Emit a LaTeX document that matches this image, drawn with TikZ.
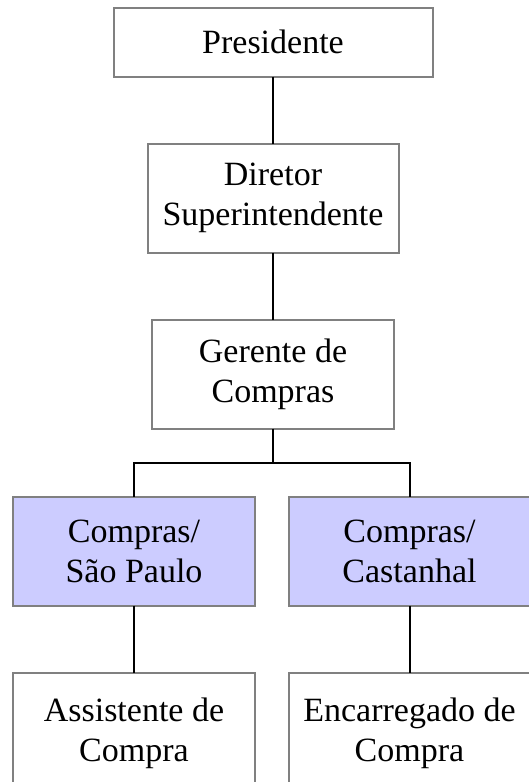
\documentclass[tikz,border=0pt]{standalone}
\usepackage{fontspec}
\setmainfont{Liberation Serif}
\usepackage{xcolor}
\usepackage{tikz}
\usetikzlibrary{calc}
\usetikzlibrary{positioning}

\definecolor{lavender}{HTML}{CCCCFF}
\definecolor{boxgray}{HTML}{808080}

\begin{document}
\begin{tikzpicture}[-,semithick,node distance=67pt,
		font=\fontsize{34}{40}\selectfont]
						\tikzset{post/.style={draw=boxgray, line width=2pt, fill=white, align=center, inner sep=0pt, outer sep=0pt, minimum width=242pt, minimum height=109pt}}
						\tikzset{branch/.style={post, fill=lavender}}
						\tikzset{link/.style={draw=black, line width=2pt}}
						\useasboundingbox (0,0) rectangle (529pt,-782pt);
						\node[post, minimum width=319pt, minimum height=69pt] (pres) at (273pt,-42pt) {Presidente};
						\node[post, minimum width=251pt] (dir) [below=of pres] {Diretor\\Superintendente};
						\node[post] (ger) [below=of dir] {Gerente de\\Compras};
						\node[branch] (sp) [below=68pt of ger, xshift=-139pt] {Compras/\\São Paulo};
						\node[branch] (ca) [below=68pt of ger, xshift=136.5pt] {Compras/\\Castanhal};
						\node[post, minimum height=122pt] (asst) [below=of sp] {Assistente de\\Compra};
						\node[post, minimum height=122pt] (enc) [below=of ca] {Encarregado de\\Compra};
						\coordinate (bus) at ($(ger.south)!0.5!(ger.south |- sp.north)$);
				  \path[link]
					 (pres) edge (dir)
					 (dir) edge (ger)
					 (sp) edge (asst)
					 (ca) edge (enc);
				  \draw[link] (ger) -- (bus);
				  \draw[link] (sp) |- (bus) -| (ca);
				\end{tikzpicture}
\end{document}
